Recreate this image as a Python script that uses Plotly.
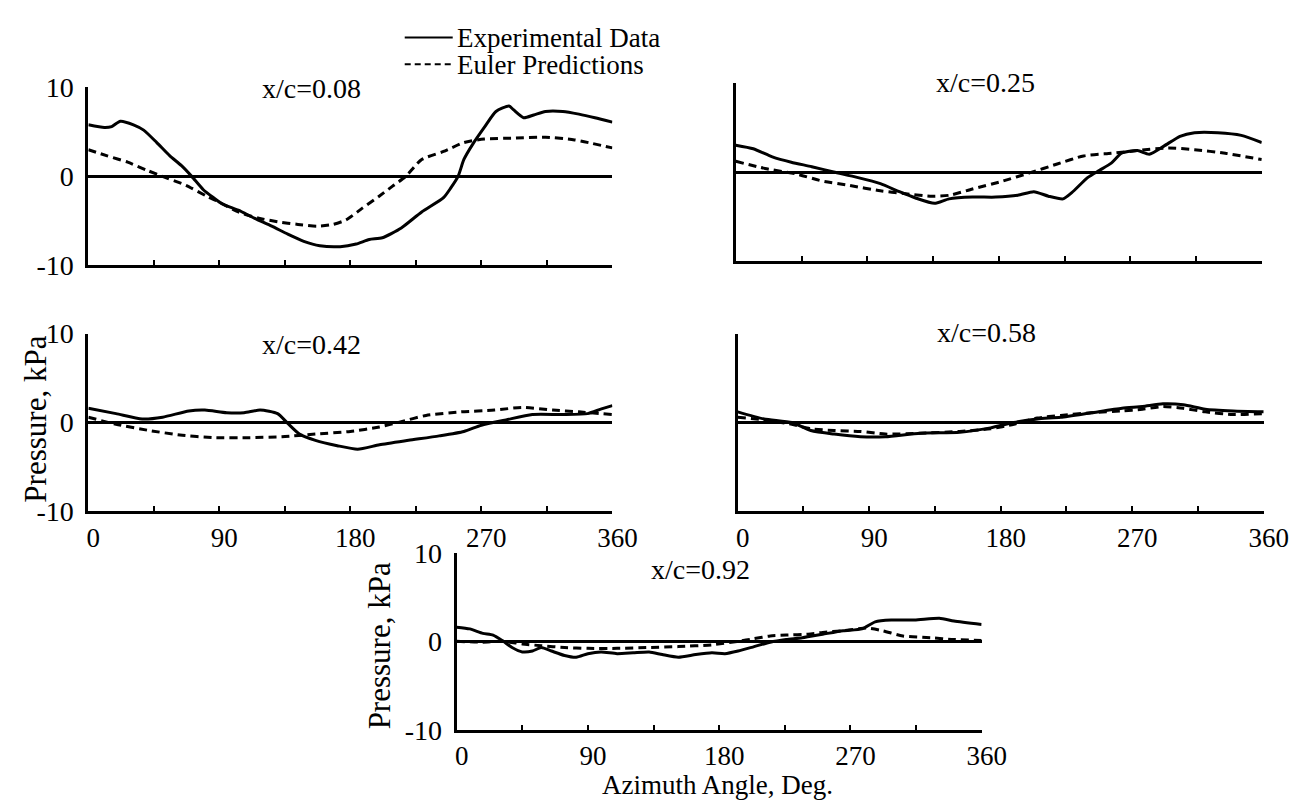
"""Surface pressure vs azimuth angle, experiment against Euler predictions."""

import plotly.graph_objects as go

W, H = 1315, 807
FONT = "Liberation Serif, Times New Roman, serif"

# x/c = 0.08
ANG_008_EXP = [0, 11, 16, 22, 31, 38, 47, 56, 64, 71, 79, 86, 92, 103, 114, 126, 137, 148, 159,
               173, 184, 193, 202, 215, 229, 244, 249, 254, 258, 264, 272, 280, 289, 292, 299,
               306, 314, 326, 337, 348, 360]
P_008_EXP = [5.8, 5.5, 5.6, 6.2, 5.8, 5.2, 3.8, 2.3, 1.2, 0.0, -1.5, -2.4, -3.1, -3.8, -4.7, -5.6,
             -6.5, -7.3, -7.8, -7.9, -7.6, -7.1, -6.9, -5.8, -4.0, -2.4, -1.3, 0.0, 1.9, 3.6, 5.5,
             7.3, 7.9, 7.5, 6.6, 6.9, 7.3, 7.3, 7.0, 6.6, 6.1]
ANG_008_EUL = [0, 13, 27, 40, 54, 67, 81, 90, 103, 117, 130, 144, 157, 168, 177, 188, 200, 209,
               218, 229, 244, 258, 272, 292, 314, 334, 360]
P_008_EUL = [3.0, 2.3, 1.6, 0.7, -0.2, -1.0, -2.2, -2.9, -4.0, -4.7, -5.1, -5.4, -5.6, -5.4, -4.9,
             -3.6, -2.2, -1.1, 0.0, 1.9, 2.8, 3.8, 4.2, 4.3, 4.4, 4.1, 3.2]

# x/c = 0.25
ANG_025_EXP = [0, 12, 25, 38, 52, 67, 83, 99, 112, 123, 136, 146, 162, 178, 193, 204, 214, 224,
               230, 241, 249, 257, 264, 275, 283, 293, 304, 314, 330, 346, 360]
P_025_EXP = [3.0, 2.6, 1.7, 1.1, 0.6, 0.0, -0.6, -1.3, -2.2, -2.9, -3.5, -3.0, -2.8, -2.8, -2.6,
             -2.2, -2.7, -3.0, -2.3, -0.6, 0.2, 1.0, 2.1, 2.4, 2.0, 2.9, 4.0, 4.4, 4.4, 4.1, 3.3]
ANG_025_EUL = [0, 20, 41, 59, 78, 99, 115, 133, 146, 162, 183, 201, 220, 238, 257, 275, 296, 314,
               335, 360]
P_025_EUL = [1.2, 0.4, -0.2, -1.0, -1.5, -2.1, -2.4, -2.7, -2.6, -1.9, -1.0, -0.1, 0.9, 1.8, 2.1,
             2.4, 2.7, 2.5, 2.1, 1.4]

# x/c = 0.42
ANG_042_EXP = [0, 19, 37, 51, 69, 80, 95, 107, 118, 130, 137, 145, 156, 171, 185, 200, 220, 241,
               258, 270, 287, 305, 326, 343, 352, 360]
P_042_EXP = [1.6, 1.0, 0.4, 0.6, 1.3, 1.4, 1.1, 1.1, 1.4, 1.0, -0.1, -1.3, -2.0, -2.6, -3.0, -2.5,
             -2.0, -1.5, -1.0, -0.3, 0.3, 0.9, 0.9, 1.0, 1.5, 1.9]
ANG_042_EUL = [0, 19, 42, 63, 86, 110, 133, 156, 180, 200, 215, 232, 256, 279, 298, 319, 337, 360]
P_042_EUL = [0.6, -0.2, -0.9, -1.4, -1.7, -1.7, -1.6, -1.3, -1.0, -0.5, 0.1, 0.8, 1.2, 1.4, 1.7,
             1.4, 1.2, 0.9]

# x/c = 0.58
ANG_058 = [0, 18, 37, 50, 66, 84, 101, 125, 152, 173, 189, 205, 221, 242, 263, 277, 291, 305,
           320, 339, 360]
P_058_EXP = [1.2, 0.4, 0.0, -0.9, -1.3, -1.6, -1.6, -1.2, -1.1, -0.6, 0.0, 0.4, 0.6, 1.1, 1.6,
             1.8, 2.1, 2.0, 1.5, 1.3, 1.2]
P_058_EUL = [0.6, 0.3, -0.2, -0.7, -0.9, -1.0, -1.3, -1.2, -1.0, -0.7, -0.2, 0.5, 0.8, 1.1, 1.3,
             1.5, 1.8, 1.6, 1.2, 0.9, 1.0]

# x/c = 0.92
ANG_092_EXP = [0, 9, 18, 25, 32, 38, 45, 52, 58, 65, 74, 82, 90, 99, 110, 121, 132, 141, 152, 164,
               175, 184, 193, 204, 215, 226, 237, 251, 265, 278, 287, 298, 314, 331, 341, 360]
P_092_EXP = [1.6, 1.4, 0.9, 0.7, 0.0, -0.7, -1.2, -1.1, -0.7, -1.1, -1.6, -1.8, -1.4, -1.2, -1.4,
             -1.3, -1.2, -1.5, -1.8, -1.5, -1.3, -1.4, -1.1, -0.6, -0.1, 0.2, 0.4, 0.8, 1.2, 1.4,
             2.2, 2.4, 2.4, 2.6, 2.3, 1.9]
ANG_092_EUL = [0, 18, 32, 45, 58, 74, 90, 110, 132, 152, 175, 193, 204, 215, 226, 241, 251, 265,
               281, 292, 306, 325, 341, 360]
P_092_EUL = [0.0, -0.1, 0.0, -0.3, -0.5, -0.7, -0.8, -0.8, -0.7, -0.6, -0.4, 0.0, 0.3, 0.6, 0.7,
             0.8, 1.0, 1.2, 1.5, 1.2, 0.6, 0.4, 0.2, 0.1]

X_TICKS = [0, 45, 90, 135, 180, 225, 270, 315, 360]
X_TICK_TEXT = ["0", "", "90", "", "180", "", "270", "", "360"]
Y_TICKS = [-10, 0, 10]
Y_TICK_TEXT = ["-10", "0", "10"]

SERIES_NAMES = ["Experimental Data", "Euler Predictions"]

PANELS = [
    # pixel box is (x0, x1, ytop, ybottom) on the 1315x807 page
    dict(label="x/c=0.08", exp=(ANG_008_EXP, P_008_EXP), eul=(ANG_008_EUL, P_008_EUL),
         box=(80, 615, 67, 252), title=(308, 68), xlab=False, ylab=True),
    dict(label="x/c=0.25", exp=(ANG_025_EXP, P_025_EXP), eul=(ANG_025_EUL, P_025_EUL),
         box=(741, 1278, 62, 248), title=(996, 62), xlab=False, ylab=False),
    dict(label="x/c=0.42", exp=(ANG_042_EXP, P_042_EXP), eul=(ANG_042_EUL, P_042_EUL),
         box=(80, 615, 323, 508), title=(308, 334), xlab=True, ylab=True),
    dict(label="x/c=0.58", exp=(ANG_058, P_058_EXP), eul=(ANG_058, P_058_EUL),
         box=(743, 1280, 323, 508), title=(997, 322), xlab=True, ylab=False),
    dict(label="x/c=0.92", exp=(ANG_092_EXP, P_092_EXP), eul=(ANG_092_EUL, P_092_EUL),
         box=(456, 992, 551, 735), title=(705, 568), xlab=True, ylab=True),
]

EXP_LINE = dict(color="black", width=3, shape="spline", smoothing=0.6)
EUL_LINE = dict(color="black", width=3, dash="8px,5px", shape="spline", smoothing=0.6)


def px_x(x):
    return x / W


def px_y(y):
    return 1 - y / H


def text_note(text, x, y, size=28, **kw):
    return dict(text=text, x=px_x(x), y=px_y(y), xref="paper", yref="paper",
                showarrow=False, font=dict(size=size), borderpad=0, **kw)


fig = go.Figure()
layout = dict(
    width=W, height=H, autosize=False,
    margin=dict(l=0, r=0, t=0, b=0),
    plot_bgcolor="white", paper_bgcolor="white",
    font=dict(family=FONT, size=28, color="black"),
    showlegend=False,
    annotations=[],
    shapes=[],
)

for i, p in enumerate(PANELS, start=1):
    sx = "" if i == 1 else str(i)
    x0, x1, yt, yb = p["box"]
    fig.add_trace(go.Scatter(
        x=p["exp"][0], y=p["exp"][1], mode="lines", name=SERIES_NAMES[0],
        line=EXP_LINE, xaxis="x" + sx, yaxis="y" + sx, hoverinfo="skip"))
    fig.add_trace(go.Scatter(
        x=p["eul"][0], y=p["eul"][1], mode="lines", name=SERIES_NAMES[1],
        line=EUL_LINE, xaxis="x" + sx, yaxis="y" + sx, hoverinfo="skip"))

    layout["xaxis" + sx] = dict(
        domain=[px_x(x0), px_x(x1)], anchor="y" + sx, range=[0, 360],
        showgrid=False, zeroline=False, showline=True, linecolor="black", linewidth=3,
        ticks="inside", ticklen=5, tickwidth=2, tickcolor="black",
        tickvals=X_TICKS, ticktext=X_TICK_TEXT, showticklabels=p["xlab"],
        ticklabelshift=5, tickfont=dict(size=27))
    layout["yaxis" + sx] = dict(
        domain=[px_y(yb), px_y(yt)], anchor="x" + sx, range=[-10, 10],
        showgrid=False, zeroline=True, zerolinecolor="black", zerolinewidth=2.5,
        showline=True, linecolor="black", linewidth=3,
        tickvals=Y_TICKS, ticktext=Y_TICK_TEXT, showticklabels=p["ylab"],
        ticks="", ticklabelstandoff=6)

    tx, ty = p["title"]
    layout["annotations"].append(text_note(p["label"], tx, ty, xanchor="center",
                                           yanchor="middle"))

# legend, drawn by hand to sit tight above the first panel
for (name, dash), ly in zip([(SERIES_NAMES[0], "solid"), (SERIES_NAMES[1], "6px,4px")],
                            [15, 43]):
    layout["shapes"].append(dict(
        type="line", xref="paper", yref="paper", x0=px_x(403), x1=px_x(452),
        y0=px_y(ly), y1=px_y(ly), line=dict(color="black", width=2, dash=dash)))
    layout["annotations"].append(text_note(name, 455, ly + 1, size=27, xanchor="left",
                                           yanchor="middle"))

# axis titles
for x, y in [(26, 412), (377, 648)]:
    layout["annotations"].append(text_note("Pressure, kPa", x, y, size=31, xanchor="center",
                                           yanchor="middle", textangle=-90))
layout["annotations"].append(text_note("Azimuth Angle, Deg.", 722, H + 2, size=27,
                                       xanchor="center", yanchor="bottom"))

fig.update_layout(**layout)
fig.write_html("out.html")
